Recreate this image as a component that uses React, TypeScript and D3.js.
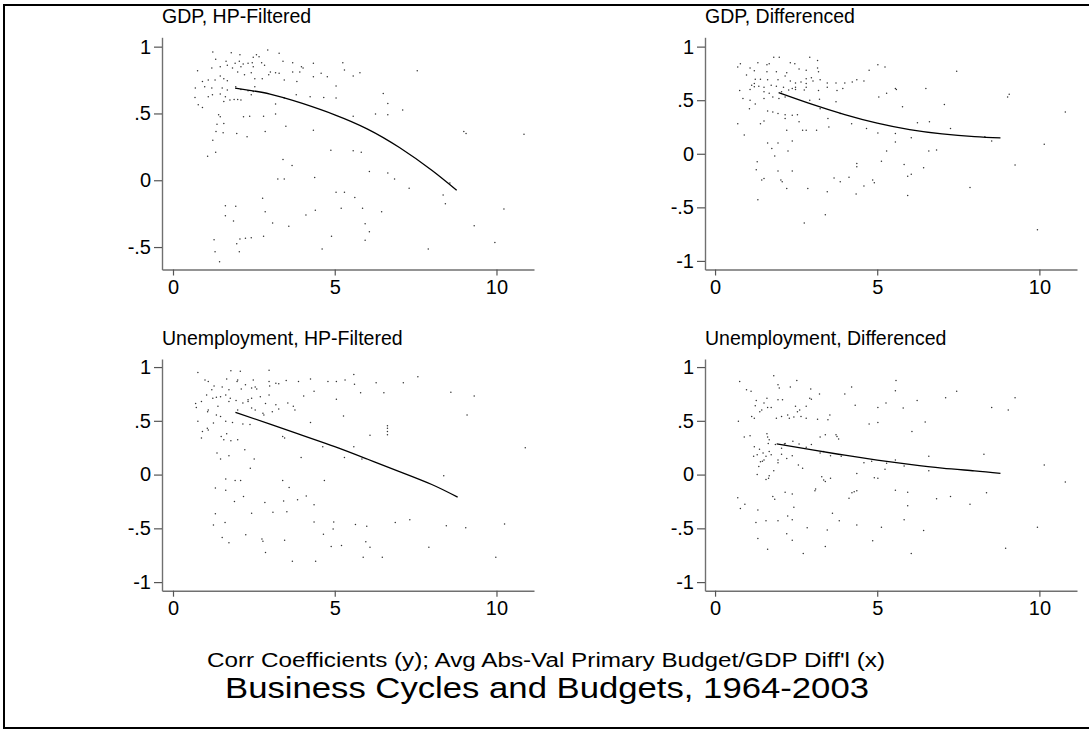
import { useEffect, useRef } from "react";
import * as d3 from "d3";

type Pt = [number, number];

// x: avg abs-val primary budget/GDP differential, y: correlation coefficient
const gdpHpPoints: Pt[] = [
  [1.23, 0.96], [1.8, 0.955], [2.07, 0.94], [2.93, 0.975], [3.28, 0.95], [2.58, 0.94], [2.66, 0.925], [2.48, 0.92],
  [1.32, 0.905], [1.64, 0.89], [1.92, 0.875], [2.05, 0.89], [2.17, 0.87], [2.32, 0.875], [2.45, 0.88], [2.74, 0.88],
  [3.4, 0.89], [3.7, 0.88], [3.97, 0.85], [4.34, 0.875], [5.25, 0.88], [5.3, 0.825], [1.2, 0.84], [1.46, 0.85],
  [1.68, 0.86], [1.84, 0.84], [2.1, 0.85], [2.48, 0.85], [2.83, 0.86], [3.01, 0.81], [3.17, 0.805], [3.28, 0.8],
  [3.7, 0.81], [3.92, 0.81], [4.02, 0.84], [4.58, 0.8], [4.77, 0.775], [5.57, 0.78], [5.78, 0.805], [7.55, 0.82],
  [0.76, 0.82], [0.91, 0.74], [1.09, 0.75], [1.3, 0.75], [1.46, 0.78], [1.57, 0.76], [1.68, 0.745], [2.0, 0.81],
  [2.21, 0.79], [2.42, 0.805], [2.53, 0.76], [2.76, 0.76], [2.96, 0.79], [3.44, 0.75], [3.83, 0.74], [4.34, 0.775],
  [0.69, 0.69], [0.98, 0.7], [1.2, 0.69], [1.52, 0.69], [1.68, 0.675], [1.94, 0.7], [2.1, 0.68], [2.32, 0.67],
  [2.53, 0.7], [2.48, 0.665], [5.04, 0.705], [6.5, 0.65], [0.68, 0.62], [1.09, 0.625], [1.22, 0.64], [1.46, 0.645],
  [1.62, 0.625], [1.89, 0.605], [2.1, 0.6], [2.42, 0.64], [3.44, 0.615], [3.81, 0.64], [4.24, 0.625], [4.66, 0.62],
  [5.04, 0.615], [6.64, 0.575], [0.78, 0.565], [0.91, 0.545], [1.57, 0.59], [1.76, 0.6], [2.0, 0.605], [3.17, 0.57],
  [7.1, 0.525], [5.57, 0.48], [6.26, 0.495], [6.64, 0.49], [1.41, 0.49], [1.46, 0.475], [2.18, 0.475], [2.37, 0.48],
  [2.8, 0.48], [3.17, 0.495], [1.36, 0.42], [1.57, 0.425], [1.33, 0.365], [1.55, 0.355], [1.97, 0.35], [2.29, 0.325],
  [2.85, 0.365], [3.49, 0.405], [4.34, 0.375], [8.99, 0.365], [9.06, 0.35], [10.85, 0.345], [1.23, 0.3], [1.07, 0.18],
  [1.32, 0.21], [4.88, 0.225], [5.57, 0.22], [5.82, 0.21], [3.4, 0.155], [3.68, 0.11], [3.24, 0.01], [3.44, 0.01],
  [4.38, 0.02], [6.07, 0.065], [6.64, 0.055], [6.85, 0.01], [7.3, -0.06], [8.56, -0.02], [5.04, -0.09], [5.3, -0.09],
  [8.35, -0.11], [5.62, -0.13], [2.77, -0.135], [8.42, -0.175], [1.62, -0.19], [1.94, -0.195], [2.85, -0.235], [4.4, -0.225],
  [5.2, -0.21], [5.86, -0.21], [6.45, -0.235], [10.23, -0.215], [1.62, -0.265], [1.87, -0.305], [3.08, -0.32], [3.58, -0.345],
  [4.11, -0.26], [5.94, -0.325], [6.07, -0.385], [9.31, -0.34], [1.27, -0.445], [2.07, -0.44], [2.24, -0.435], [2.42, -0.43],
  [2.8, -0.42], [1.97, -0.475], [4.9, -0.42], [5.94, -0.45], [9.95, -0.465], [1.3, -0.535], [2.05, -0.535], [4.61, -0.515],
  [7.89, -0.515], [1.44, -0.61],
];
const gdpHpFit: Pt[] = [[1.92, 0.69], [3, 0.645], [4, 0.575], [5, 0.49], [6, 0.385], [7, 0.245], [8, 0.075], [8.77, -0.075]];

const gdpDiffPoints: Pt[] = [
  [0.7, 0.81], [0.78, 0.84], [1.08, 0.8], [1.32, 0.85], [1.6, 0.83], [1.67, 0.84], [1.81, 0.9], [1.98, 0.9],
  [2.32, 0.85], [2.46, 0.84], [2.92, 0.9], [3.16, 0.87], [2.59, 0.79], [2.81, 0.78], [3.16, 0.8], [1.21, 0.775],
  [1.6, 0.765], [1.89, 0.765], [2.21, 0.755], [2.81, 0.7], [2.97, 0.71], [3.19, 0.765], [0.97, 0.735], [1.24, 0.695],
  [1.4, 0.695], [1.62, 0.69], [1.94, 0.69], [2.16, 0.725], [2.32, 0.68], [2.48, 0.66], [2.65, 0.67], [2.81, 0.655],
  [3.02, 0.68], [3.24, 0.69], [3.46, 0.66], [3.73, 0.66], [4.0, 0.66], [4.23, 0.67], [4.37, 0.69], [4.59, 0.68],
  [1.21, 0.655], [1.13, 0.64], [1.35, 0.63], [1.51, 0.62], [1.73, 0.64], [1.89, 0.63], [2.11, 0.62], [2.38, 0.61],
  [2.48, 0.62], [2.81, 0.62], [3.46, 0.62], [3.94, 0.61], [4.75, 0.78], [5.02, 0.83], [5.24, 0.81], [7.45, 0.77],
  [5.56, 0.61], [6.5, 0.61], [0.76, 0.59], [1.08, 0.6], [1.21, 0.625], [1.51, 0.58], [1.67, 0.565], [2.05, 0.58],
  [2.27, 0.595], [2.48, 0.6], [2.75, 0.595], [3.19, 0.59], [3.76, 0.59], [5.29, 0.565], [5.59, 0.6], [0.86, 0.515],
  [1.08, 0.5], [1.24, 0.465], [1.51, 0.515], [1.78, 0.53], [1.97, 0.515], [2.16, 0.53], [2.92, 0.5], [3.22, 0.51],
  [3.73, 0.485], [5.05, 0.53], [5.78, 0.44], [9.02, 0.53], [9.07, 0.555], [1.06, 0.42], [1.62, 0.4], [1.78, 0.39],
  [1.94, 0.375], [2.16, 0.365], [2.38, 0.36], [2.54, 0.365], [3.24, 0.42], [3.48, 0.33], [3.86, 0.375], [10.8, 0.39],
  [0.7, 0.28], [1.4, 0.28], [1.51, 0.305], [2.16, 0.33], [2.59, 0.3], [3.51, 0.25], [4.21, 0.28], [4.67, 0.235],
  [6.24, 0.29], [6.61, 0.3], [7.07, 0.46], [7.26, 0.235], [0.9, 0.175], [2.21, 0.22], [2.7, 0.22], [2.81, 0.22],
  [3.13, 0.22], [5.02, 0.195], [5.56, 0.19], [6.05, 0.15], [8.32, 0.16], [8.53, 0.12], [1.62, 0.1], [1.94, 0.1],
  [2.38, 0.12], [5.56, 0.11], [10.15, 0.09], [1.75, 0.05], [2.25, 0.025], [5.29, 0.025], [6.59, 0.025], [6.83, 0.035],
  [1.84, -0.02], [1.3, -0.075], [4.37, -0.09], [5.13, -0.07], [5.83, -0.1], [9.25, -0.105], [1.27, -0.15], [2.38, -0.16],
  [1.94, -0.16], [4.37, -0.12], [6.43, -0.13], [6.05, -0.19], [5.94, -0.21], [1.51, -0.23], [1.44, -0.245], [2.03, -0.245],
  [2.07, -0.26], [3.67, -0.225], [3.86, -0.26], [4.13, -0.22], [4.86, -0.245], [4.91, -0.27], [2.21, -0.325], [2.86, -0.325],
  [4.59, -0.3], [7.86, -0.315], [3.46, -0.355], [4.35, -0.375], [5.94, -0.39], [1.32, -0.43], [3.4, -0.57], [2.75, -0.645],
  [9.94, -0.71],
];
const gdpDiffFit: Pt[] = [[1.96, 0.57], [3, 0.46], [4, 0.365], [5, 0.285], [6, 0.225], [7, 0.185], [8, 0.16], [8.8, 0.148]];

const unempHpPoints: Pt[] = [
  [0.77, 0.95], [1.79, 0.965], [2.08, 0.96], [2.97, 0.97], [5.59, 0.93], [7.57, 0.91], [0.99, 0.88], [1.09, 0.865],
  [1.66, 0.89], [2.0, 0.88], [2.48, 0.88], [2.97, 0.865], [3.18, 0.85], [3.5, 0.875], [3.88, 0.865], [4.25, 0.89],
  [4.79, 0.865], [5.05, 0.865], [5.32, 0.88], [5.61, 0.84], [6.28, 0.855], [7.12, 0.855], [1.27, 0.825], [1.52, 0.815],
  [1.98, 0.865], [2.24, 0.835], [2.54, 0.815], [2.99, 0.825], [3.27, 0.845], [1.2, 0.79], [1.73, 0.79], [2.11, 0.795],
  [2.43, 0.805], [2.59, 0.795], [5.8, 0.76], [6.52, 0.76], [8.59, 0.765], [9.31, 0.73], [1.04, 0.74], [1.34, 0.72],
  [1.47, 0.725], [1.63, 0.74], [1.77, 0.71], [2.32, 0.695], [2.43, 0.71], [2.7, 0.725], [2.97, 0.74], [4.04, 0.73],
  [4.36, 0.775], [5.05, 0.7], [0.88, 0.68], [1.23, 0.71], [1.73, 0.68], [1.95, 0.69], [2.16, 0.665], [2.32, 0.68],
  [2.86, 0.66], [3.18, 0.65], [3.55, 0.665], [3.72, 0.635], [0.7, 0.66], [0.72, 0.625], [1.09, 0.6], [1.39, 0.635],
  [2.0, 0.6], [2.43, 0.62], [2.54, 0.6], [2.78, 0.57], [3.07, 0.585], [3.27, 0.61], [3.77, 0.6], [1.07, 0.585],
  [1.34, 0.555], [1.47, 0.54], [1.63, 0.495], [1.84, 0.485], [2.16, 0.47], [2.38, 0.465], [2.81, 0.555], [1.25, 0.48],
  [0.77, 0.495], [4.25, 0.485], [5.27, 0.545], [9.09, 0.555], [1.06, 0.43], [0.91, 0.4], [1.09, 0.415], [0.88, 0.34],
  [1.49, 0.355], [1.66, 0.38], [1.57, 0.325], [2.0, 0.325], [1.79, 0.315], [6.09, 0.365], [6.63, 0.455], [6.63, 0.43],
  [6.63, 0.4], [6.63, 0.37], [3.39, 0.355], [3.45, 0.34], [10.89, 0.25], [4.63, 0.26], [5.59, 0.26], [1.36, 0.2],
  [1.73, 0.175], [1.47, 0.145], [2.22, 0.23], [2.51, 0.145], [5.3, 0.16], [3.96, 0.16], [5.84, 0.145], [8.37, -0.01],
  [2.39, 0.06], [1.63, -0.04], [1.92, -0.055], [2.09, -0.055], [3.39, -0.055], [4.68, -0.055], [1.31, -0.125], [1.63, -0.145],
  [3.59, -0.12], [2.18, -0.205], [1.9, -0.25], [3.85, -0.235], [4.12, -0.2], [3.42, -0.245], [4.36, -0.28], [2.84, -0.26],
  [2.43, -0.36], [3.09, -0.35], [3.52, -0.345], [1.31, -0.365], [1.61, -0.445], [4.36, -0.44], [4.97, -0.44], [5.64, -0.465],
  [5.99, -0.48], [6.87, -0.445], [7.32, -0.42], [8.45, -0.475], [10.25, -0.46], [1.25, -0.47], [9.05, -0.495], [4.95, -0.505],
  [2.25, -0.56], [4.65, -0.555], [1.52, -0.585], [1.73, -0.635], [2.75, -0.6], [2.78, -0.62], [3.45, -0.61], [5.96, -0.625],
  [4.89, -0.67], [5.21, -0.66], [6.09, -0.675], [7.91, -0.675], [2.86, -0.725], [5.88, -0.77], [6.47, -0.77], [9.98, -0.77],
  [3.69, -0.805], [4.41, -0.805],
];
const unempHpFit: Pt[] = [[1.93, 0.578], [3, 0.47], [4, 0.365], [5, 0.26], [6, 0.145], [7, 0.028], [8, -0.092], [8.8, -0.21]];

const unempDiffPoints: Pt[] = [
  [1.81, 0.92], [0.76, 0.865], [2.52, 0.875], [1.94, 0.835], [1.98, 0.805], [4.21, 0.815], [2.32, 0.815], [5.58, 0.875],
  [0.97, 0.79], [1.11, 0.775], [2.95, 0.795], [5.56, 0.78], [3.22, 0.75], [4.0, 0.75], [7.45, 0.775], [7.11, 0.715],
  [9.25, 0.715], [1.27, 0.69], [1.51, 0.665], [1.6, 0.71], [1.73, 0.625], [1.94, 0.695], [2.08, 0.695], [2.48, 0.635],
  [2.61, 0.6], [2.81, 0.635], [2.92, 0.71], [2.97, 0.7], [6.23, 0.69], [9.04, 0.6], [8.53, 0.625], [4.32, 0.645],
  [5.27, 0.665], [1.24, 0.64], [1.44, 0.6], [1.38, 0.585], [5.8, 0.62], [5.02, 0.625], [1.21, 0.525], [1.13, 0.54],
  [1.62, 0.625], [1.89, 0.525], [2.05, 0.54], [2.24, 0.555], [2.29, 0.525], [2.43, 0.535], [2.54, 0.585], [2.65, 0.54],
  [2.81, 0.525], [3.16, 0.515], [3.48, 0.51], [3.54, 0.555], [4.75, 0.47], [5.02, 0.485], [6.48, 0.49], [0.72, 0.495],
  [0.9, 0.35], [1.08, 0.36], [1.6, 0.38], [1.62, 0.35], [1.67, 0.325], [1.64, 0.29], [1.86, 0.28], [2.16, 0.29],
  [2.4, 0.31], [2.59, 0.285], [2.81, 0.255], [2.97, 0.28], [3.24, 0.35], [3.4, 0.37], [3.73, 0.37], [3.76, 0.355],
  [3.81, 0.33], [6.07, 0.4], [1.21, 0.26], [1.19, 0.17], [1.3, 0.185], [1.37, 0.235], [1.48, 0.2], [1.57, 0.17],
  [1.67, 0.215], [1.51, 0.135], [1.4, 0.12], [1.73, 0.185], [1.94, 0.135], [2.05, 0.19], [2.21, 0.15], [2.38, 0.175],
  [2.57, 0.09], [2.7, 0.06], [1.94, 0.11], [2.05, 0.245], [1.35, 0.075], [1.46, 0.125], [2.14, 0.285], [3.24, 0.2],
  [3.35, 0.215], [3.56, 0.175], [3.89, 0.17], [4.59, 0.11], [4.83, 0.125], [5.29, 0.105], [5.56, 0.135], [5.83, 0.08],
  [6.59, 0.17], [6.59, 0.035], [8.29, 0.19], [1.3, 0.0], [1.67, -0.01], [1.57, -0.045], [1.65, -0.035], [1.81, 0.035],
  [3.29, -0.02], [3.35, -0.05], [3.4, -0.065], [3.56, -0.035], [4.37, 0.01], [4.91, -0.03], [5.02, -0.035], [5.24, 0.05],
  [10.15, 0.09], [10.8, -0.07], [2.16, -0.165], [2.38, -0.18], [3.08, -0.15], [3.1, -0.135], [4.22, -0.17], [4.29, -0.16],
  [4.37, -0.15], [5.56, -0.145], [5.94, -0.165], [6.83, -0.225], [7.26, -0.205], [7.86, -0.275], [8.37, -0.17], [4.13, -0.22],
  [1.78, -0.205], [1.84, -0.23], [0.7, -0.215], [0.78, -0.315], [0.92, -0.275], [1.32, -0.33], [1.57, -0.43], [1.94, -0.43],
  [2.24, -0.385], [2.43, -0.305], [2.38, -0.42], [1.26, -0.445], [2.84, -0.495], [3.46, -0.515], [3.62, -0.36], [3.83, -0.43],
  [4.37, -0.47], [5.13, -0.49], [5.83, -0.42], [5.94, -0.29], [6.43, -0.52], [9.94, -0.49], [2.21, -0.55], [2.38, -0.61],
  [1.32, -0.595], [1.62, -0.695], [3.4, -0.67], [4.86, -0.615], [2.72, -0.735], [6.05, -0.735], [8.96, -0.685],
];
const unempDiffFit: Pt[] = [[1.9, 0.286], [3, 0.23], [4, 0.18], [5, 0.135], [6, 0.095], [7, 0.06], [8, 0.035], [8.8, 0.012]];

const panelTitles = ["GDP, HP-Filtered", "GDP, Differenced", "Unemployment, HP-Filtered", "Unemployment, Differenced"];
const xTicks = [0, 5, 10];
const yTicksShort = [-0.5, 0, 0.5, 1];
const yTicksFull = [-1, -0.5, 0, 0.5, 1];
const subtitle = "Corr Coefficients (y); Avg Abs-Val Primary Budget/GDP Diff'l (x)";
const title = "Business Cycles and Budgets, 1964-2003";

const W = 1089,
  H = 730;
const FONT = "'Liberation Sans', Arial, Helvetica, sans-serif";

export default function App() {
  const ref = useRef<SVGSVGElement>(null);

  useEffect(() => {
    const svg = d3.select(ref.current!);
    svg.selectAll("*").remove();

    // outer graph-region frame (right edge lies outside the picture)
    svg
      .append("rect")
      .attr("x", 4)
      .attr("y", 5)
      .attr("width", W + 20)
      .attr("height", 723)
      .attr("fill", "#fff")
      .attr("stroke", "#000")
      .attr("stroke-width", 2);

    const panels = [
      { title: panelTitles[0], pts: gdpHpPoints, fit: gdpHpFit, yTicks: yTicksShort, xd: [-0.34, 11.16], xr: [162, 534], yd: [-0.668, 1.07], yr: [269.5, 37.3], ty: 23 },
      { title: panelTitles[1], pts: gdpDiffPoints, fit: gdpDiffFit, yTicks: yTicksFull, xd: [-0.31, 11.16], xr: [705, 1077], yd: [-1.08, 1.087], yr: [269.5, 37.3], ty: 23 },
      { title: panelTitles[2], pts: unempHpPoints, fit: unempHpFit, yTicks: yTicksFull, xd: [-0.34, 11.16], xr: [162, 534], yd: [-1.08, 1.075], yr: [590.7, 359], ty: 345 },
      { title: panelTitles[3], pts: unempDiffPoints, fit: unempDiffFit, yTicks: yTicksFull, xd: [-0.31, 11.16], xr: [705, 1077], yd: [-1.08, 1.075], yr: [590.7, 359], ty: 345 },
    ];

    const fmt = (v: d3.NumberValue) => String(+v).replace("0.", ".");

    panels.forEach((p) => {
      const x = d3.scaleLinear().domain(p.xd).range(p.xr);
      const y = d3.scaleLinear().domain(p.yd).range(p.yr);
      const g = svg.append("g");

      // scatter dots
      g.selectAll("circle")
        .data(p.pts)
        .join("circle")
        .attr("cx", (d) => x(d[0]))
        .attr("cy", (d) => y(d[1]))
        .attr("r", 0.75)
        .attr("fill", "#333");

      // fitted curve
      const line = d3
        .line<Pt>()
        .x((d) => x(d[0]))
        .y((d) => y(d[1]))
        .curve(d3.curveNatural);
      g.append("path")
        .datum(p.fit)
        .attr("d", line)
        .attr("fill", "none")
        .attr("stroke", "#000")
        .attr("stroke-width", 1.3);

      // axes
      const ax = g
        .append("g")
        .attr("transform", `translate(0,${p.yr[0]})`)
        .call(d3.axisBottom(x).tickValues(xTicks).tickFormat(fmt).tickSize(6).tickSizeOuter(0).tickPadding(4));
      const ay = g
        .append("g")
        .attr("transform", `translate(${p.xr[0]},0)`)
        .call(d3.axisLeft(y).tickValues(p.yTicks).tickFormat(fmt).tickSize(8).tickSizeOuter(0).tickPadding(3));
      [ax, ay].forEach((a) => {
        a.attr("font-family", FONT).attr("font-size", 20);
        a.select(".domain").attr("stroke", "#707070").attr("stroke-width", 1.4);
        a.selectAll(".tick line").attr("stroke", "#555").attr("stroke-width", 1.2);
        a.selectAll(".tick text").attr("fill", "#000");
      });

      g.append("text")
        .attr("x", p.xr[0])
        .attr("y", p.ty)
        .attr("font-family", FONT)
        .attr("font-size", 19.5)
        .attr("fill", "#000")
        .text(p.title);
    });

    svg
      .append("text")
      .attr("x", 546)
      .attr("y", 667)
      .attr("text-anchor", "middle")
      .attr("font-family", FONT)
      .attr("font-size", 20)
      .attr("textLength", 678)
      .attr("lengthAdjust", "spacingAndGlyphs")
      .text(subtitle);

    svg
      .append("text")
      .attr("x", 547)
      .attr("y", 698)
      .attr("text-anchor", "middle")
      .attr("font-family", FONT)
      .attr("font-size", 30)
      .attr("textLength", 644)
      .attr("lengthAdjust", "spacingAndGlyphs")
      .text(title);
  }, []);

  return (
    <svg
      ref={ref}
      width={W}
      height={H}
      style={{ position: "absolute", left: 0, top: 0, background: "#fff" }}
    />
  );
}
